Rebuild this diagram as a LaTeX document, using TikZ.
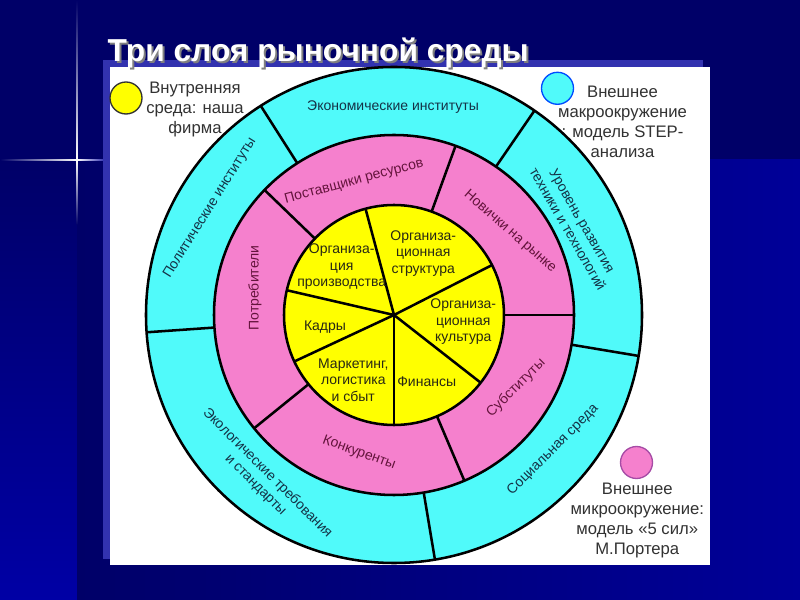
\documentclass[tikz,border=0pt]{standalone}
\usepackage{fontspec}
\setmainfont{Liberation Sans}
\usetikzlibrary{arrows}
\definecolor{navy}{RGB}{0,0,104}
\definecolor{brightnavy}{RGB}{0,0,152}
\definecolor{lowblue}{RGB}{0,0,165}
\definecolor{framebl}{RGB}{50,50,175}
\definecolor{ringcyan}{RGB}{80,250,250}
\definecolor{ringpink}{RGB}{245,128,205}
\definecolor{coreyel}{RGB}{255,255,0}
\definecolor{cyantext}{RGB}{20,50,70}
\definecolor{pinktext}{RGB}{100,20,60}
\definecolor{coretext}{RGB}{40,40,20}
\definecolor{legtext}{RGB}{50,50,50}
\tikzset{
	ringline/.style={line width=1.9pt},
	ringlbl/.style={font=\fontsize{10.5}{12.5}\selectfont, align=center, inner sep=0pt},
	corelbl/.style={font=\fontsize{10.5}{12.5}\selectfont, align=center, text=coretext, inner sep=0pt},
	leglbl/.style={font=\fontsize{12.5}{15}\selectfont, align=center, text=legtext, inner sep=0pt},
	legdot/.style={circle, minimum size=24pt, inner sep=0pt, line width=1pt}
}

\begin{document}
\begin{tikzpicture}[x=0.75pt,y=0.75pt]
	\useasboundingbox (0,0) rectangle (800,600);
	% background of the slide
	\fill[navy] (0,0) rectangle (800,600);
	\shade[top color=navy, bottom color=lowblue] (0,0) rectangle (77,440);
	\shade[left color=navy, right color=brightnavy] (77,0) rectangle (800,440);
	\shade[left color=navy, right color=white] (0,439.4) rectangle (77,440.6);
	\shade[left color=white, right color=framebl] (77,439.4) rectangle (104,440.6);
	\shade[top color=navy, bottom color=white] (76.4,440) rectangle (77.6,600);
	\shade[top color=white, bottom color=navy] (76.4,375) rectangle (77.6,440);
	
	% panel
	\fill[framebl] (103,41) rectangle (703,540);
	\fill[white] (110,35) rectangle (710,533);
	
	% title
	\node[anchor=base west, font=\fontsize{23.8}{28}\selectfont\bfseries, text=gray] (titleshadow) at (105,536) {Три слоя рыночной среды};
	\node[anchor=base west, font=\fontsize{23.8}{28}\selectfont\bfseries, text=white] (title) at (103,538) {Три слоя рыночной среды};
	
	% legend
	\node[legdot, draw=legtext, fill=coreyel] (dotcore) at (126,502) {};
	\node[leglbl] (legcore) at (195,490) {Внутренняя\\среда: наша\\фирма};
	\node[legdot, draw=blue!70!cyan, fill=ringcyan] (dotmacro) at (557.5,511.7) {};
	\node[leglbl] (legmacro) at (622.5,478.3) {Внешнее\\макроокружение\\: модель STEP-\\анализа};
	\node[legdot, draw=violet!70, fill=ringpink] (dotmicro) at (636.5,137.5) {};
	\node[leglbl] (legmicro) at (637.3,79.7) {Внешнее\\микроокружение:\\модель «5 сил»\\М.Портера};
	
	% rings
	\begin{scope}[shift={(394,285)}]
		\draw[ringline, fill=ringcyan] (0,0) circle (248);
		\draw[ringline, fill=ringpink] (0,0) circle (180);
		\draw[ringline, fill=coreyel] (0,0) circle (110);
		\foreach \a in {122.5,55.5,-9.5,-80.5,184}
			\draw[ringline] (\a:180) -- (\a:248);
		\foreach \a in {136,70,0,-67,219}
			\draw[ringline] (\a:110) -- (\a:180);
		\foreach \a in {105,27,-38,-90,205,167}
			\draw[ringline] (0,0) -- (\a:110);
		
		% outer layer
		\node[ringlbl, text=cyantext] (econ) at (-1,208) {Экономические институты};
		\node[ringlbl, text=cyantext, rotate=58] (polit) at (-184,107) {Политические институты};
		\node[ringlbl, text=cyantext, rotate=-60] (tech) at (181,90) {Уровень развития\\техники и технологий};
		\node[ringlbl, text=cyantext, rotate=45] (social) at (159,-135) {Социальная среда};
		\node[ringlbl, text=cyantext, rotate=-45] (ecol) at (-132.5,-164) {Экологические требования\\и стандарты};
		
		% middle layer
		\node[ringlbl, text=pinktext, rotate=15] (suppl) at (-40,133.5) {Поставщики ресурсов};
		\node[ringlbl, text=pinktext, rotate=-41] (newcom) at (116,83.3) {Новички на рынке};
		\node[ringlbl, text=pinktext, rotate=45] (subst) at (122,-73) {Субституты};
		\node[ringlbl, text=pinktext, rotate=-20] (compet) at (-35,-138) {Конкуренты};
		\node[ringlbl, text=pinktext, rotate=90] (consum) at (-139,27) {Потребители};
		
		% inner layer
		\node[corelbl] (prod) at (-52.3,48.3) {Организа-\\ция\\производства};
		\node[corelbl] (struct) at (29.3,61.7) {Организа-\\ционная\\структура};
		\node[corelbl] (cult) at (69.3,-6.7) {Организа-\\ционная\\культура};
		\node[corelbl] (staff) at (-69,-11.7) {Кадры};
		\node[corelbl] (market) at (-40.7,-65) {Маркетинг,\\логистика\\и сбыт};
		\node[corelbl] (fin) at (32.7,-66.7) {Финансы};
	\end{scope}
\end{tikzpicture}
\end{document}
